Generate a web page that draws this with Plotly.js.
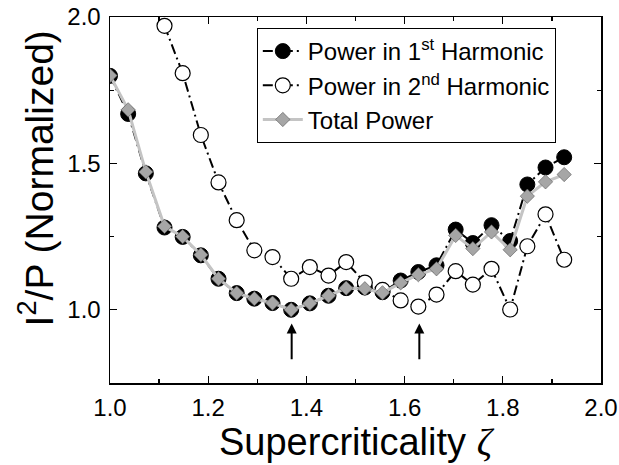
<!DOCTYPE html>
<html>
<head>
<meta charset="utf-8">
<script src="https://cdn.plot.ly/plotly-3.0.1.min.js"></script>
<style>html,body{margin:0;padding:0;background:#fff;}#chart{width:619px;height:465px;}</style>
</head>
<body>
<div id="chart"></div>
<script>
// Supercriticality values (zeta)
const zeta = [1.000, 1.037, 1.073, 1.111, 1.148, 1.185, 1.221, 1.258, 1.294, 1.331,
              1.369, 1.407, 1.445, 1.481, 1.519, 1.555, 1.592, 1.628, 1.665, 1.704,
              1.739, 1.777, 1.815, 1.850, 1.887, 1.925];
// Power in 1st harmonic
const power1 = [1.799, 1.669, 1.466, 1.281, 1.249, 1.186, 1.106, 1.057, 1.038, 1.023,
                1.000, 1.022, 1.048, 1.074, 1.076, 1.060, 1.100, 1.129, 1.152, 1.274,
                1.228, 1.289, 1.235, 1.428, 1.486, 1.521];
// Power in 2nd harmonic (starts at zeta = 1.111)
const zeta2 = zeta.slice(3);
const power2 = [1.970, 1.808, 1.597, 1.435, 1.306, 1.203, 1.180, 1.106, 1.146, 1.117,
                1.163, 1.093, 1.068, 1.032, 1.011, 1.052, 1.132, 1.086, 1.140, 1.001,
                1.217, 1.326, 1.171];
// Total power
const powerTotal = [1.800, 1.683, 1.471, 1.285, 1.250, 1.188, 1.106, 1.057, 1.038, 1.023,
                    1.000, 1.022, 1.048, 1.074, 1.072, 1.058, 1.092, 1.120, 1.140, 1.254,
                    1.209, 1.266, 1.205, 1.388, 1.437, 1.462];
// Arrows marking minima
const arrowX = [1.37, 1.63];
const arrowTailY = 0.826;
const arrowHeadY = 0.953;

const xTicks = [1.0, 1.2, 1.4, 1.6, 1.8, 2.0];
const yTicks = [1.0, 1.5, 2.0];

const FONT = 'Arial, "Liberation Sans", sans-serif';
const dashDot = '10px,4px,2px,4px';

const traces = [
  {
    x: zeta, y: power1, name: 'Power in 1<sup>st</sup> Harmonic',
    mode: 'lines+markers', type: 'scatter',
    line: {color: '#000', width: 2, dash: dashDot},
    marker: {symbol: 'circle', size: 15, color: '#000', line: {color: '#000', width: 1}}
  },
  {
    x: zeta2, y: power2, name: 'Power in 2<sup>nd</sup> Harmonic',
    mode: 'lines+markers', type: 'scatter',
    line: {color: '#000', width: 2, dash: dashDot},
    marker: {symbol: 'circle', size: 15, color: '#fff', line: {color: '#000', width: 1.2}}
  },
  {
    x: zeta, y: powerTotal, name: 'Total Power',
    mode: 'lines+markers', type: 'scatter',
    line: {color: '#c4c4c4', width: 3},
    marker: {symbol: 'diamond', size: 11, color: '#a6a6a6', line: {color: '#555', width: 0.6}}
  }
];

const annotations = arrowX.map(x => ({
  x: x, y: arrowHeadY, ax: x, ay: arrowTailY,
  xref: 'x', yref: 'y', axref: 'x', ayref: 'y',
  showarrow: true, arrowhead: 2, arrowsize: 1, arrowwidth: 2, arrowcolor: '#000', text: ''
}));
// y-axis title placed as a rotated annotation to match reference position
annotations.push({
  xref: 'paper', yref: 'paper', x: -0.152, y: 0.56,
  xanchor: 'center', yanchor: 'middle', textangle: -90, showarrow: false,
  text: 'I<sup>2</sup>/P (Normalized)',
  font: {family: FONT, size: 39, color: '#000'}
});

const axisCommon = {
  showline: true, linecolor: '#000', linewidth: 1.5, mirror: 'ticks',
  ticks: 'inside', ticklen: 7, tickwidth: 1.3, tickcolor: '#000',
  showgrid: false, zeroline: false,
  tickfont: {family: FONT, size: 24, color: '#000'},
  tickformat: '.1f', ticklabelstandoff: 3
};

const layout = {
  width: 619, height: 465,
  margin: {l: 110, r: 18, t: 17, b: 82, pad: 0},
  paper_bgcolor: '#fff', plot_bgcolor: '#fff',
  font: {family: FONT, color: '#000'},
  showlegend: true,
  legend: {
    x: 0.299, y: 0.97, xanchor: 'left', yanchor: 'top',
    bordercolor: '#000', borderwidth: 1, bgcolor: '#fff',
    font: {family: FONT, size: 24, color: '#000'},
    tracegroupgap: 0, itemwidth: 40
  },
  xaxis: Object.assign({}, axisCommon, {
    range: [1.0, 2.0], tickvals: xTicks,
    minor: {ticks: 'inside', ticklen: 4, dtick: 0.1, tickcolor: '#000', tickwidth: 1.3},
    title: {text: 'Supercriticality <span style="font-family:\'Liberation Serif\', serif"><i>ζ</i></span>',
            font: {family: FONT, size: 38, color: '#000'}, standoff: 4}
  }),
  yaxis: Object.assign({}, axisCommon, {
    range: [0.75, 2.0], tickvals: yTicks,
    minor: {ticks: 'inside', ticklen: 4, dtick: 0.25, tickcolor: '#000', tickwidth: 1.3}
  }),
  annotations: annotations
};

Plotly.newPlot('chart', traces, layout, {displayModeBar: false, staticPlot: true});
</script>
</body>
</html>
